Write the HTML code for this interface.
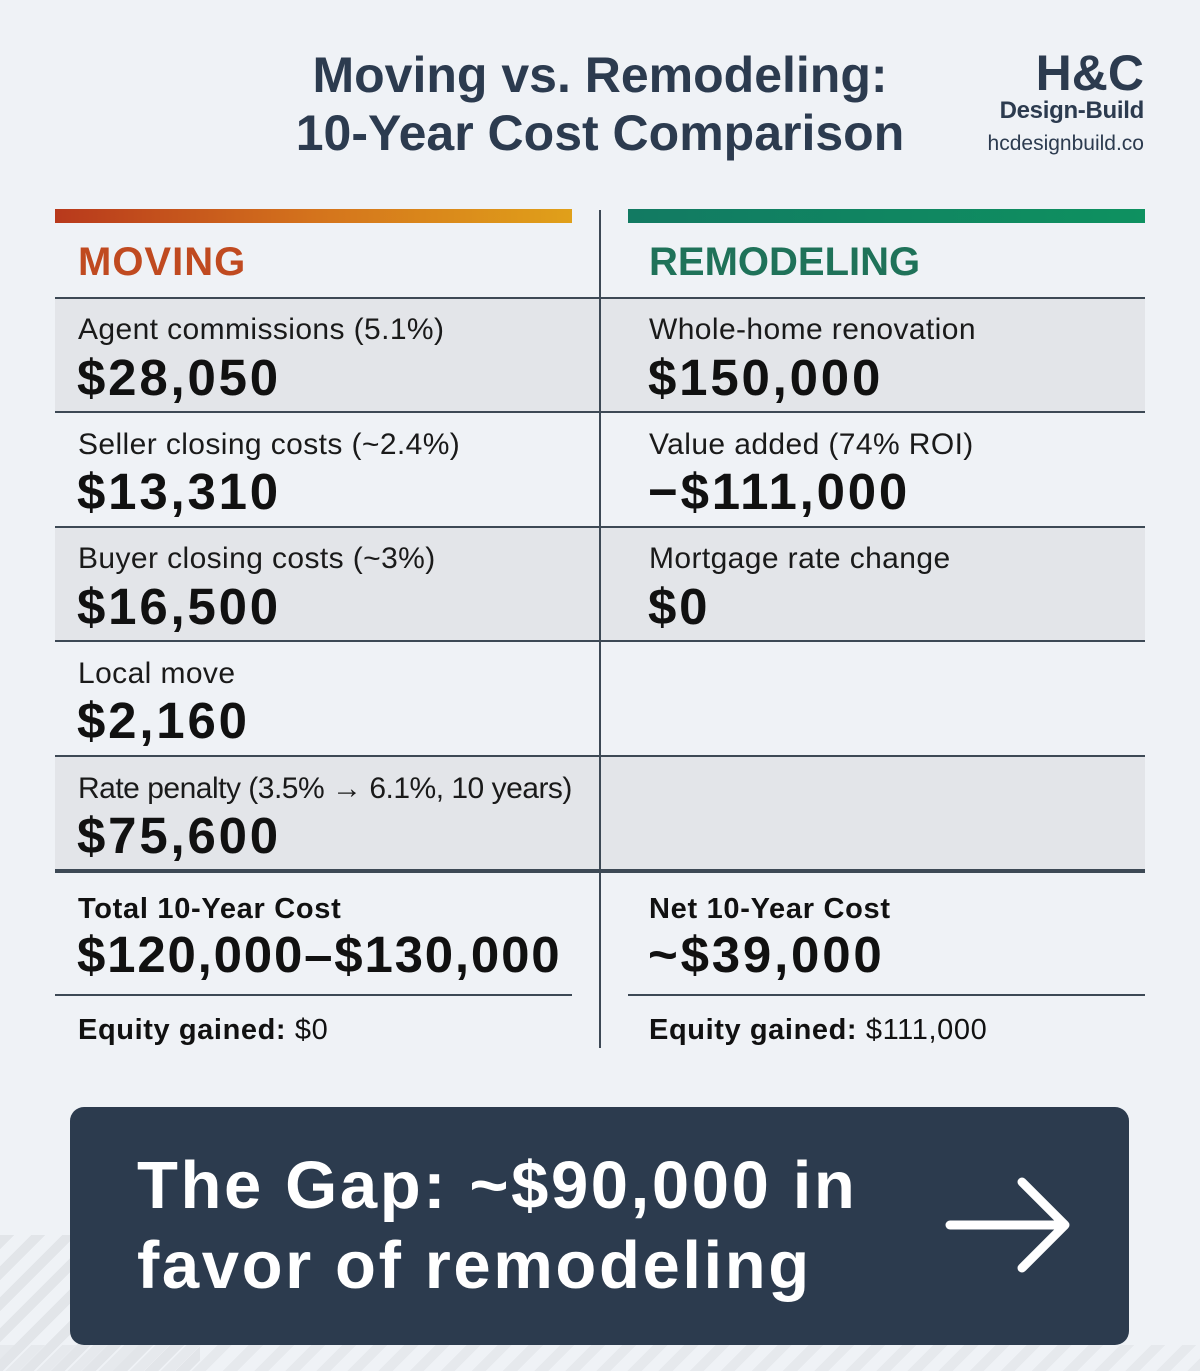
<!DOCTYPE html>
<html><head><meta charset="utf-8"><style>
*{margin:0;padding:0;box-sizing:border-box}
body{width:1200px;height:1371px;background:#eff2f6;position:relative;overflow:hidden;font-family:"Liberation Sans",sans-serif;color:#111}
.a{position:absolute;white-space:nowrap}
.title{left:0;width:1200px;text-align:center;font-weight:bold;font-size:50px;color:#2c3b4f;letter-spacing:0px}
.row{position:absolute;height:115px}
.g{background:#e3e5e9}
.hl{position:absolute;height:2px;background:#3d4955}
.lbl{font-size:30px;color:#1a1a1a;letter-spacing:0.4px}
.val{font-size:51px;font-weight:bold;color:#111;letter-spacing:2.8px}
.tl{font-size:29px;font-weight:bold;letter-spacing:0.7px}
</style></head><body>
<div class="a title" style="top:46px;left:0">Moving vs. Remodeling:</div>
<div class="a title" style="top:104px;left:0">10-Year Cost Comparison</div>
<div class="a" style="right:56px;top:44px;font-size:50px;font-weight:bold;color:#2c3b4f;letter-spacing:0px">H&amp;C</div>
<div class="a" style="right:56px;top:97px;font-size:24px;font-weight:bold;color:#2c3b4f;letter-spacing:-0.3px">Design-Build</div>
<div class="a" style="right:56px;top:132px;font-size:21px;color:#2c3b4f">hcdesignbuild.co</div>

<div class="a" style="left:55px;top:209px;width:517px;height:14px;background:linear-gradient(90deg,#b8391c,#d4731c,#e0a01a)"></div>
<div class="a" style="left:628px;top:209px;width:517px;height:14px;background:linear-gradient(90deg,#127a62,#0e9160)"></div>
<div class="a" style="left:78px;top:240px;font-size:40px;font-weight:bold;color:#c04a20;letter-spacing:1px">MOVING</div>
<div class="a" style="left:649px;top:240px;font-size:40px;font-weight:bold;color:#1f7259;letter-spacing:0px">REMODELING</div>

<div class="row g" style="left:55px;width:1090px;top:298px"></div>
<div class="row g" style="left:55px;width:1090px;top:527px"></div>
<div class="row g" style="left:55px;width:1090px;top:756px"></div>
<div class="hl" style="left:55px;width:1090px;top:297px"></div>
<div class="hl" style="left:55px;width:1090px;top:411px"></div>
<div class="hl" style="left:55px;width:1090px;top:526px"></div>
<div class="hl" style="left:55px;width:1090px;top:640px"></div>
<div class="hl" style="left:55px;width:1090px;top:755px"></div>
<div class="hl" style="left:55px;width:1090px;top:869px;height:4px"></div>
<div class="hl" style="left:55px;width:517px;top:994px"></div>
<div class="hl" style="left:628px;width:517px;top:994px"></div>
<div class="a" style="left:599px;top:210px;width:2px;height:838px;background:#3d4955"></div>

<div class="a lbl" style="left:78px;top:313px">Agent commissions (5.1%)</div>
<div class="a val" style="left:77px;top:348px">$28,050</div>
<div class="a lbl" style="left:78px;top:428px">Seller closing costs (~2.4%)</div>
<div class="a val" style="left:77px;top:462px">$13,310</div>
<div class="a lbl" style="left:78px;top:542px">Buyer closing costs (~3%)</div>
<div class="a val" style="left:77px;top:577px">$16,500</div>
<div class="a lbl" style="left:78px;top:657px">Local move</div>
<div class="a val" style="left:77px;top:691px">$2,160</div>
<div class="a lbl" style="left:78px;top:772px;letter-spacing:-0.5px">Rate penalty (3.5% → 6.1%, 10 years)</div>
<div class="a val" style="left:77px;top:806px">$75,600</div>

<div class="a lbl" style="left:649px;top:313px">Whole-home renovation</div>
<div class="a val" style="left:648px;top:348px">$150,000</div>
<div class="a lbl" style="left:649px;top:428px">Value added (74% ROI)</div>
<div class="a val" style="left:648px;top:462px">−$111,000</div>
<div class="a lbl" style="left:649px;top:542px">Mortgage rate change</div>
<div class="a val" style="left:648px;top:577px">$0</div>

<div class="a tl" style="left:78px;top:893px">Total 10-Year Cost</div>
<div class="a val" style="left:77px;top:925px;letter-spacing:1.8px">$120,000–$130,000</div>
<div class="a tl" style="left:649px;top:893px">Net 10-Year Cost</div>
<div class="a val" style="left:648px;top:925px">~$39,000</div>
<div class="a" style="left:78px;top:1014px;font-size:29px;letter-spacing:0.6px"><b>Equity gained:</b> $0</div>
<div class="a" style="left:649px;top:1014px;font-size:29px;letter-spacing:0.6px"><b>Equity gained:</b> $111,000</div>

<div class="a" style="left:0;top:1235px;width:200px;height:136px;background:repeating-linear-gradient(135deg,#e2e5e9 0 10px,transparent 10px 22px)"></div>
<div class="a" style="left:0;top:1345px;width:1200px;height:26px;background:repeating-linear-gradient(135deg,#e6e9ed 0 10px,transparent 10px 22px)"></div>
<div class="a" style="left:70px;top:1107px;width:1059px;height:238px;background:#2c3b4e;border-radius:14px"></div>
<div class="a" style="left:137px;top:1146px;font-size:67px;font-weight:bold;color:#fff;line-height:80px;letter-spacing:2.6px">The Gap: ~$90,000 in<br>favor of remodeling</div>
<svg class="a" style="left:0;top:0" width="1200" height="1371"><g stroke="#fff" stroke-width="9" stroke-linecap="round" stroke-linejoin="round" fill="none"><line x1="950" y1="1225" x2="1064" y2="1225"/><polyline points="1022,1182 1065,1225 1022,1268"/></g></svg>
</body></html>
